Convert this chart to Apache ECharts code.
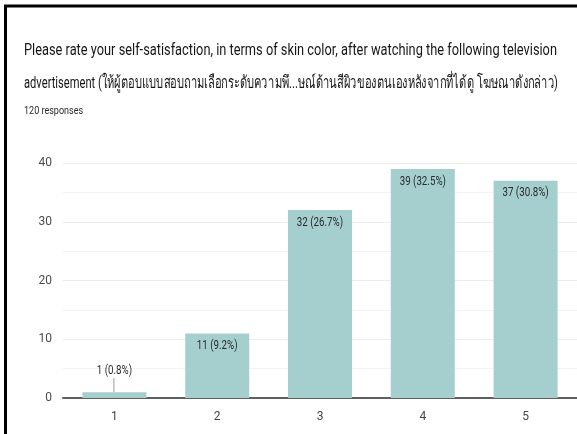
<!DOCTYPE html>
<html>
<head>
<meta charset="utf-8">
<script src="https://cdn.jsdelivr.net/npm/echarts@6/dist/echarts.min.js"></script>
<style>
  html, body { margin: 0; padding: 0; background: #fff; }
  #chart { width: 577px; height: 434px; }
</style>
</head>
<body>
<div id="chart"></div>
<script>
// Survey question and answer counts
const titleLines = [
  'Please rate your self-satisfaction, in terms of skin color, after watching the following television',
  'advertisement (ให้ผู้ตอบแบบสอบถามเลือกระดับความพึ...ษณ์ด้านสีผิวของตนเองหลังจากที่ได้ดู โฆษณาดังกล่าว)'
];
const responsesText = '120 responses';
const categories = ['1', '2', '3', '4', '5'];
const counts = [1, 11, 32, 39, 37];
const percents = ['0.8%', '9.2%', '26.7%', '32.5%', '30.8%'];
const yTicks = [0, 10, 20, 30, 40];

const FAMILY = 'Roboto, sans-serif';
const barColor = '#a5cfcf';
const textColor = '#2a2a2a';

// narrow text: squeeze a string horizontally so it spans a given width
const measureCtx = document.createElement('canvas').getContext('2d');
function squeezeFor(text, font, width) {
  measureCtx.font = font;
  return width / measureCtx.measureText(text).width;
}

const titleFont = 'normal 17px ' + FAMILY;
const subFont = 'normal 11px ' + FAMILY;
const labelFont = 'normal 12.5px ' + FAMILY;
const labelSqueeze = 0.78;

const titleGraphics = [
  { text: titleLines[0], y: 51, width: 533 },
  { text: titleLines[1], y: 84, width: 534 }
].map(t => ({
  type: 'text',
  x: 24,
  y: t.y,
  scaleX: squeezeFor(t.text, titleFont, t.width),
  style: { text: t.text, font: titleFont, fill: '#161616', textAlign: 'left', textVerticalAlign: 'middle' }
}));

const chart = echarts.init(document.getElementById('chart'), null, { renderer: 'canvas' });

chart.setOption({
  backgroundColor: '#fff',
  animation: false,
  graphic: [
    { type: 'line', shape: { x1: 5.5, y1: 6, x2: 5.5, y2: 434 }, style: { stroke: '#000', lineWidth: 3 } },
    { type: 'line', shape: { x1: 4, y1: 6, x2: 577, y2: 6 }, style: { stroke: '#000', lineWidth: 3 } },
    ...titleGraphics,
    {
      type: 'text', x: 24, y: 111, scaleX: 0.82,
      style: { text: responsesText, font: subFont, fill: '#2a2a2a', textVerticalAlign: 'middle' }
    }
  ],
  grid: { left: 63, right: -6, top: 163, bottom: 36, containLabel: false },
  xAxis: {
    type: 'category',
    data: categories,
    axisLine: { show: true, lineStyle: { color: '#5f5f5f', width: 2 } },
    axisTick: { show: false },
    axisLabel: { color: '#444', fontFamily: FAMILY, fontSize: 12, margin: 13 },
    splitLine: { show: false }
  },
  yAxis: {
    type: 'value',
    min: yTicks[0],
    max: yTicks[yTicks.length - 1],
    interval: 10,
    axisLine: { show: false },
    axisTick: { show: false },
    axisLabel: { color: '#4a4a4a', fontFamily: FAMILY, fontSize: 12, margin: 11 },
    splitLine: { show: true, lineStyle: { color: '#ececec', width: 1 } },
    minorTick: { show: false, splitNumber: 2 },
    minorSplitLine: { show: true, lineStyle: { color: '#f3f3f3', width: 1 } }
  },
  series: [
    {
      type: 'bar',
      data: counts,
      barWidth: 64,
      itemStyle: { color: barColor },
      z: 2
    },
    {
      // value labels: inside the top of tall bars, above short bars with a leader line
      type: 'custom',
      data: counts.map((v, i) => [i, v]),
      z: 5,
      silent: true,
      renderItem: function (params, api) {
        const i = api.value(0);
        const v = api.value(1);
        const p = api.coord([i, v]);
        const text = v + ' (' + percents[i] + ')';
        const small = v < 5;
        const children = [{
          type: 'text',
          x: p[0],
          y: small ? p[1] - 15 : p[1] + 6,
          scaleX: labelSqueeze,
          style: {
            text: text,
            font: labelFont,
            fill: textColor,
            textAlign: 'center',
            textVerticalAlign: small ? 'bottom' : 'top'
          }
        }];
        if (small) {
          children.push({
            type: 'line',
            shape: { x1: p[0] - 0.5, y1: p[1], x2: p[0] - 0.5, y2: p[1] - 14 },
            style: { stroke: '#999', lineWidth: 1 }
          });
        }
        return { type: 'group', children: children };
      }
    }
  ]
});
</script>
</body>
</html>
